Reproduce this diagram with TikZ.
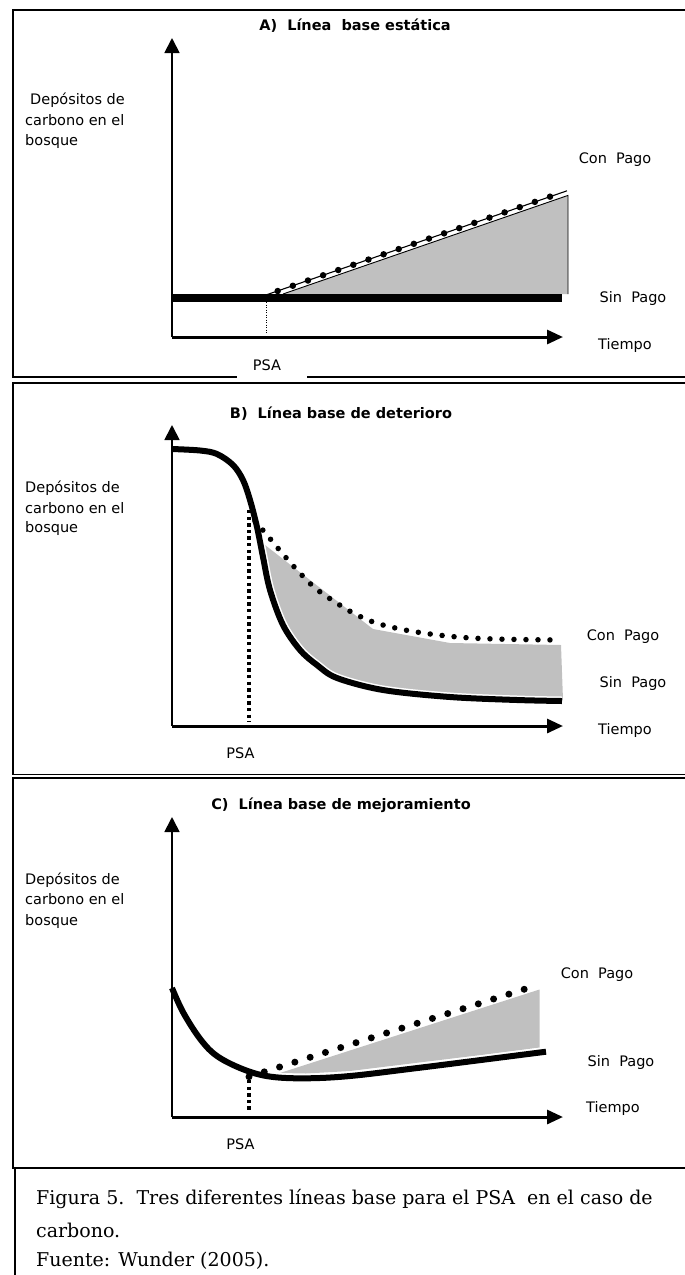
\documentclass[tikz,border=0pt]{standalone}
\usepackage{fontspec}
\setmainfont{DejaVu Sans}
\newfontfamily\capfont{DejaVu Serif}
\usetikzlibrary{arrows.meta}
\definecolor{areagray}{RGB}{192,192,192}

\begin{document}
\begin{tikzpicture}[x=1pt,y=-1pt,
  lbl/.style={font=\fontsize{14.5}{17}\selectfont, inner sep=0pt},
  ttl/.style={font=\fontsize{14.5}{17}\selectfont\bfseries, inner sep=0pt},
  ylab/.style={font=\fontsize{14.5}{17}\selectfont, inner sep=0pt, anchor=base west},
  captext/.style={font=\capfont\fontsize{19}{23}\selectfont, inner sep=0pt, anchor=base west},
  frame/.style={line width=2.5pt},
  yaxis/.style={line width=1.8pt, -{Triangle[length=15pt,width=15pt]}},
  xaxis/.style={line width=3pt, -{Triangle[length=16pt,width=14pt]}},
  sinpago/.style={line width=6pt},
  halo/.style={line width=9pt, white},
  psaline/.style={line width=3.5pt, dash pattern=on 3.3pt off 3.3pt},
  dotline/.style={line width=#1, line cap=round, dash pattern=on 0pt off 12pt},
]
\clip (0,0) rectangle (685,1275);

% ---------------- A) static baseline ----------------
\draw[frame] (700,10) -- (13,10) -- (13,377) -- (700,377);
\coordinate (oA) at (172,337);
\coordinate (yA) at (172,38);
\coordinate (xA) at (563,337);
\node[ttl] (tA) at (355,26) {A)\ \ Línea\ \ base estática};
\node[ylab] (dA1) at (30,104) {Depósitos de};
\node[ylab] (dA2) at (25,125) {carbono en el};
\node[ylab] (dA3) at (25,145) {bosque};

% gain area and the two trajectories
\coordinate (gA0) at (283,294);
\coordinate (gA1) at (568,195.4);
\coordinate (gA2) at (568,294);
\filldraw[fill=areagray, draw=black, line width=0.9pt] (gA0) -- (gA1) -- (gA2);
\coordinate (sA0) at (172,298);
\coordinate (sA1) at (562,298);
\draw[line width=7.5pt] (sA0) -- (sA1);
\coordinate (cA0) at (263,296);
\coordinate (cA1) at (567,190.8);
\draw[line width=1.1pt] (cA0) -- (cA1);
\coordinate (kA0) at (277.7,291);
\coordinate (kA1) at (550.5,196.5);
\draw[line width=6.5pt, line cap=round, dash pattern=on 0pt off 16.01pt] (kA0) -- (kA1);
\coordinate (pA0) at (266,302);
\coordinate (pA1) at (266,334);
\draw[line width=0.9pt, dash pattern=on 1pt off 1.5pt] (pA0) -- (pA1);

\draw[yaxis] (oA) -- (yA);
\draw[xaxis] (oA) -- (xA);
\node[lbl] (conA) at (615,160) {Con\ \ Pago};
\node[lbl] (sinA) at (633,298) {Sin\ \ Pago};
\node[lbl] (tiA) at (625,345) {Tiempo};
\fill[white] (237,352) rectangle (307,381);
\node[lbl] (psaA) at (267,365) {PSA};

% ---------------- B) deterioration baseline ----------------
\draw[frame] (700,383) -- (13,383) -- (13,775);
\draw[line width=1.5pt] (13,774.5) -- (700,774.5);
\coordinate (oB) at (172,726);
\coordinate (yB) at (172,425);
\coordinate (xB) at (563,726);
\node[ttl] (tB) at (341,414) {B)\ \ Línea base de deterioro};
\node[ylab] (dB1) at (25,492) {Depósitos de};
\node[ylab] (dB2) at (25,513) {carbono en el};
\node[ylab] (dB3) at (25,532) {bosque};

\fill[areagray] (265,545) -- (373,629) -- (450,643) -- (561,645) -- (563,700)
  -- (450,694) -- (383,688) -- (337,676) -- (317,663) -- (300,648) -- (283,622)
  -- (270,587) -- cycle;
\draw[halo] plot[smooth, tension=0.55] coordinates {(172,449) (200,450.5) (217,454) (233,465) (243,480) (250,500) (257,527) (263,557) (270,590) (283,625) (300,650) (317,665) (337,678) (383,690) (450,697) (517,700) (562,701)};
\draw[sinpago] plot[smooth, tension=0.55] coordinates {(172,449) (200,450.5) (217,454) (233,465) (243,480) (250,500) (257,527) (263,557) (270,590) (283,625) (300,650) (317,665) (337,678) (383,690) (450,697) (517,700) (562,701)};
\draw[yaxis] (oB) -- (yB);
\draw[xaxis] (oB) -- (xB);
\coordinate (pB0) at (249,510);
\coordinate (pB1) at (249,722);
\draw[psaline] (pB0) -- (pB1);
\draw[dotline=5.5pt] plot[smooth, tension=0.5] coordinates {(255,521) (267,535) (282,553) (298,571) (315,588) (335,602) (355,614) (376,623) (400,629) (423,633) (447,636) (471,638) (495,639) (520,639.5) (556,640)};
\node[lbl] (conB) at (623,637) {Con\ \ Pago};
\node[lbl] (sinB) at (633,683) {Sin\ \ Pago};
\node[lbl] (tiB) at (625,730) {Tiempo};
\node[lbl] (psaB) at (240.5,753) {PSA};

% ---------------- C) improvement baseline ----------------
\draw[frame] (700,778) -- (13,778) -- (13,1168) -- (700,1168);
\coordinate (oC) at (172,1117);
\coordinate (yC) at (172,817);
\coordinate (xC) at (563,1117);
\node[ttl] (tC) at (341,805) {C)\ \ Línea base de mejoramiento};
\node[ylab] (dC1) at (25,884) {Depósitos de};
\node[ylab] (dC2) at (25,904) {carbono en el};
\node[ylab] (dC3) at (25,925) {bosque};

\fill[areagray] (280,1073) -- (539.5,989.5) -- (539.5,1047.5) -- (481,1055)
  -- (415,1063) -- (350,1071) -- (306,1073.5) -- cycle;
\draw[halo] plot[smooth, tension=0.6] coordinates {(172,988) (183.5,1013) (201,1040) (218,1056.7) (245,1070) (271,1076.7) (306,1078.3) (350,1076) (415,1068.3) (481,1060) (546,1051.7)};
\draw[sinpago] plot[smooth, tension=0.6] coordinates {(172,988) (183.5,1013) (201,1040) (218,1056.7) (245,1070) (271,1076.7) (306,1078.3) (350,1076) (415,1068.3) (481,1060) (546,1051.7)};
\draw[yaxis] (oC) -- (yC);
\draw[xaxis] (oC) -- (xC);
\coordinate (pC0) at (249,1080);
\coordinate (pC1) at (249,1112);
\draw[psaline] (pC0) -- (pC1);
\coordinate (kC0) at (249,1076.7);
\coordinate (kC1) at (525,989);
\draw[line width=7pt, line cap=round, dash pattern=on 0pt off 16.04pt] (kC0) -- (kC1);
\node[lbl] (conC) at (597,975) {Con\ \ Pago};
\node[lbl] (sinC) at (621,1062) {Sin\ \ Pago};
\node[lbl] (tiC) at (613,1108) {Tiempo};
\node[lbl] (psaC) at (240.5,1144) {PSA};

% ---------------- caption ----------------
\draw[line width=1.5pt] (15,1168) -- (15,1280);
\node[captext] (f1) at (36,1204) {Figura 5.\ \ Tres diferentes líneas base para el PSA\ \ en el caso de};
\node[captext] (f2) at (36,1237) {carbono.};
\node[captext] (f3) at (36,1266) {Fuente: Wunder (2005).};
\end{tikzpicture}
\end{document}
